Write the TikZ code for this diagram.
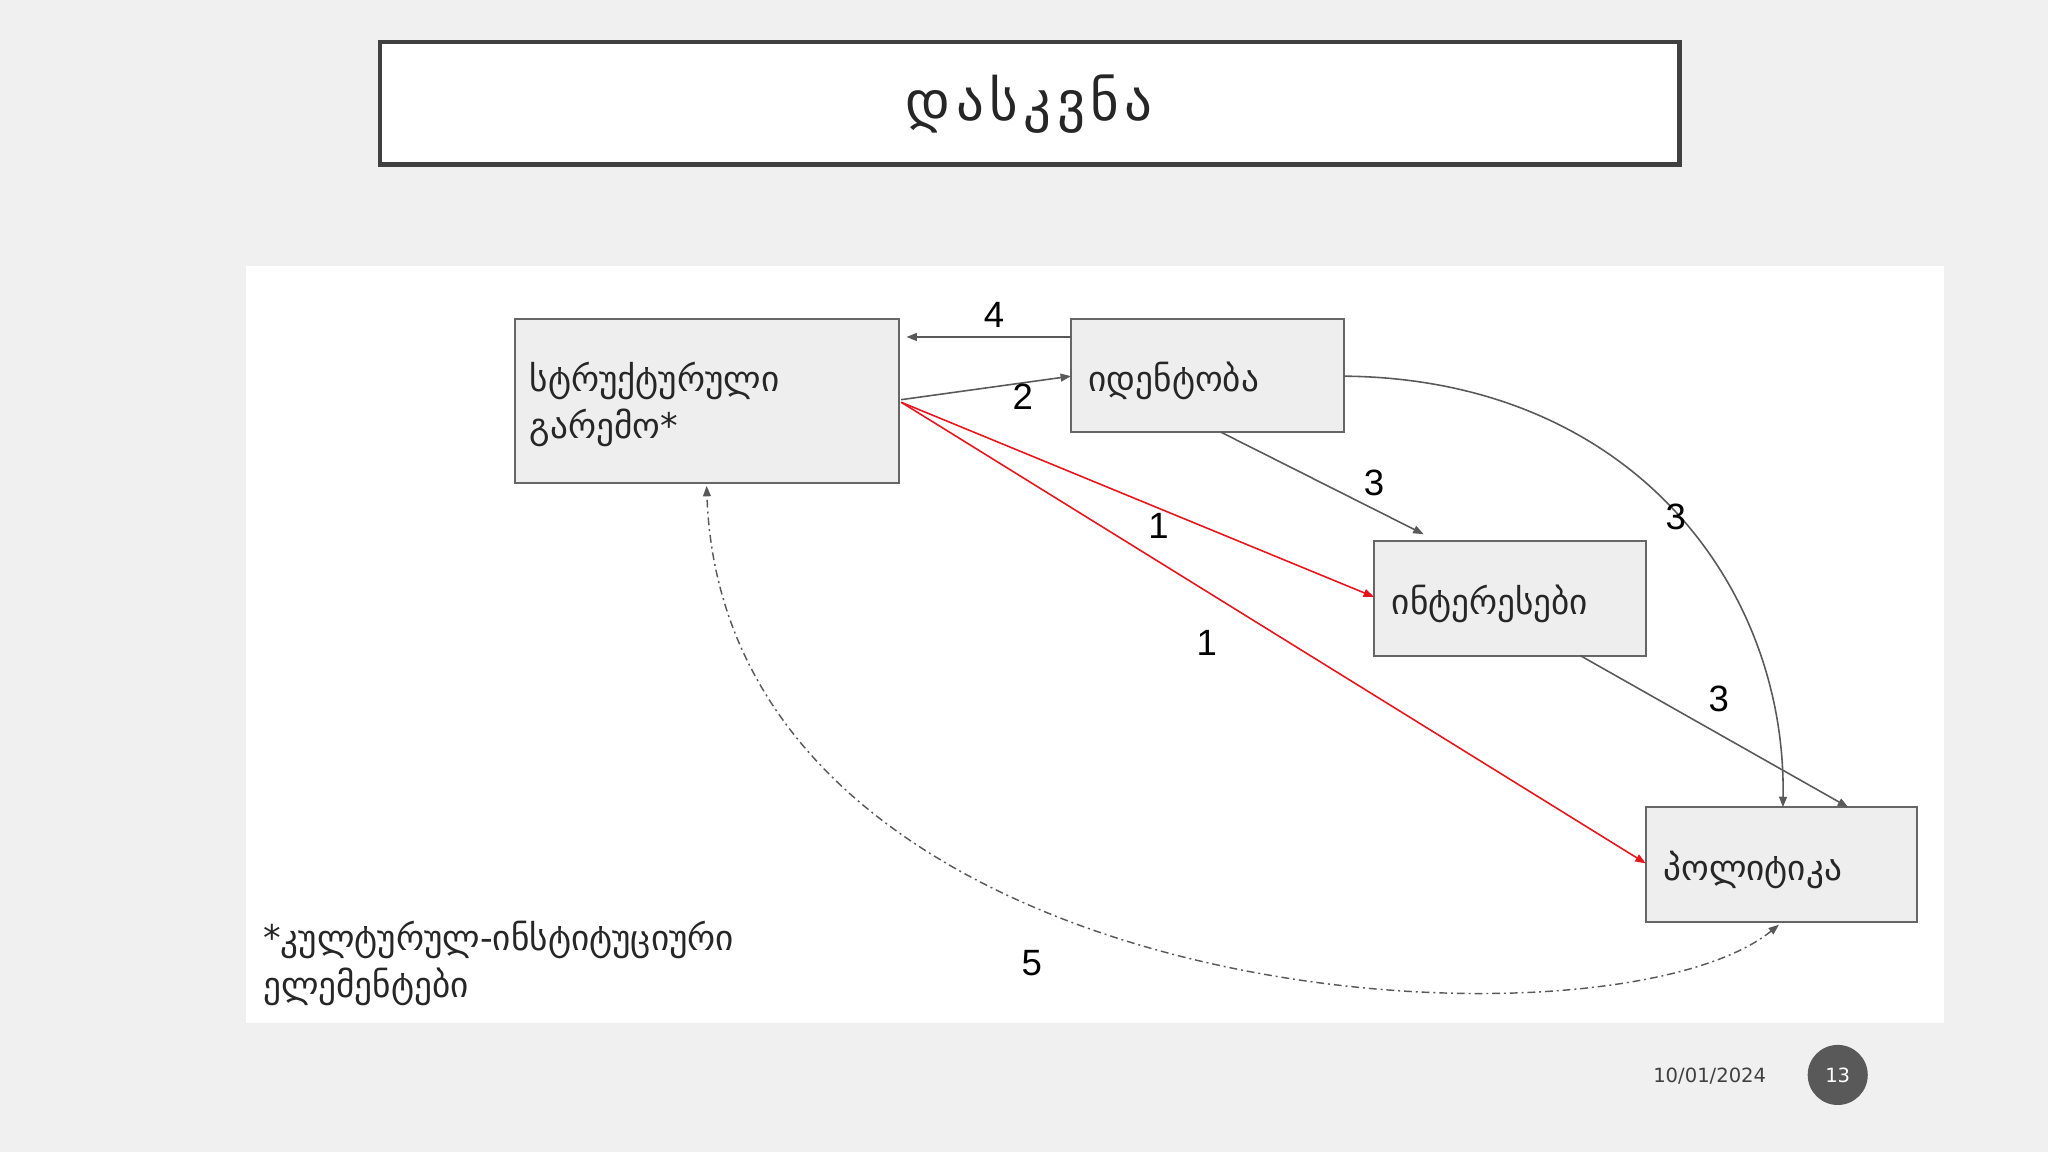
\documentclass[tikz,border=0pt]{standalone}
\usepackage{fontspec}
\setmainfont{DejaVu Sans}
\newfontfamily\numfont{Liberation Sans}
\usetikzlibrary{arrows.meta}
\definecolor{bg}{HTML}{F0F0F0}
\definecolor{boxfill}{HTML}{EEEEEE}
\definecolor{edge}{HTML}{666666}
\definecolor{arr}{HTML}{595959}
\definecolor{redarr}{HTML}{E8141B}
\tikzset{
  x=1pt,y=-1pt,
  gbox/.style={draw=edge,line width=1.5pt,fill=boxfill,minimum width=#1},
  lbl/.style={font=\numfont\fontsize{28}{28}\selectfont},
  con/.style={draw=arr,line width=1.2pt,-{Triangle[length=8pt,width=6pt]}},
  redcon/.style={draw=redarr,line width=1.2pt,-{Triangle[length=8pt,width=6pt]}},
  gtext/.style={font=\fontsize{27}{36}\selectfont,text=black!85},
}
\begin{document}
\begin{tikzpicture}
\useasboundingbox (0,0) rectangle (1568,882);
\fill[bg] (0,0) rectangle (1568,882);
\draw[draw=black!75,line width=3.5pt,fill=white] (291,32) rectangle (1286,126);
\node[font=\fontsize{42}{42}\selectfont\addfontfeatures{LetterSpace=10},text=black!85] (title) at (788,80) {დასკვნა};
\fill[white] (188,204) rectangle (1488,783);
\draw[gbox] (394,244) rectangle (688,370);
\node[gtext,anchor=north west,align=left] (Atext) at (402,274) {სტრუქტურული\\გარემო*};
\draw[gbox] (820,244) rectangle (1029,331);
\node[gtext,anchor=west] (Btext) at (830,292) {იდენტობა};
\draw[gbox] (1052,414) rectangle (1260,502);
\node[gtext,anchor=west] (Ctext) at (1062,462) {ინტერესები};
\draw[gbox] (1260,618) rectangle (1468,706);
\node[gtext,anchor=west] (Dtext) at (1270,666) {პოლიტიკა};
\coordinate (a4) at (820,258); \coordinate (b4) at (694,258);
\coordinate (a2) at (690,306); \coordinate (b2) at (820,288);
\coordinate (ar) at (690,308);
\coordinate (cin) at (1052,457); \coordinate (din) at (1260,661);
\coordinate (bbot) at (935,331); \coordinate (ctop) at (1090,409);
\coordinate (bright) at (1029,288); \coordinate (dtop) at (1365,618);
\coordinate (cbot) at (1210,502); \coordinate (dtop2) at (1415,618);
\coordinate (dbot) at (1362,708); \coordinate (abot) at (541,372);
\draw[con] (a4) -- (b4);
\draw[con] (a2) -- (b2);
\draw[redcon] (ar) -- (cin);
\draw[redcon] (ar) -- (din);
\draw[con] (bbot) -- (ctop);
\draw[con] (bright) .. controls (1250,290) and (1368,450) .. (dtop);
\draw[con] (cbot) -- (dtop2);
\draw[draw=arr,line width=1.1pt,dash pattern=on 6pt off 3pt on 1.5pt off 3pt,{Triangle[length=8pt,width=6pt]}-{Triangle[length=8pt,width=6pt]}] (dbot) .. controls (1230,815) and (555,775) .. (abot);
\node[lbl] (l4) at (761,241) {4};
\node[lbl] (l2) at (783,304) {2};
\node[lbl] (l1a) at (887,403) {1};
\node[lbl] (l1b) at (924,492) {1};
\node[lbl] (l3a) at (1052,370) {3};
\node[lbl] (l3b) at (1283,396) {3};
\node[lbl] (l3c) at (1316,535) {3};
\node[lbl] (l5) at (790,737) {5};
\node[gtext,anchor=north west,align=left] (foot) at (198,702) {*კულტურულ-ინსტიტუციური\\ელემენტები};
\node[font=\fontsize{15}{15}\selectfont,text=black!75] (date) at (1309,824) {10/01/2024};
\node[circle,fill=black!65,minimum size=46pt,inner sep=0pt,text=white,font=\fontsize{15}{15}\selectfont] (page) at (1407,823) {13};
\end{tikzpicture}
\end{document}
